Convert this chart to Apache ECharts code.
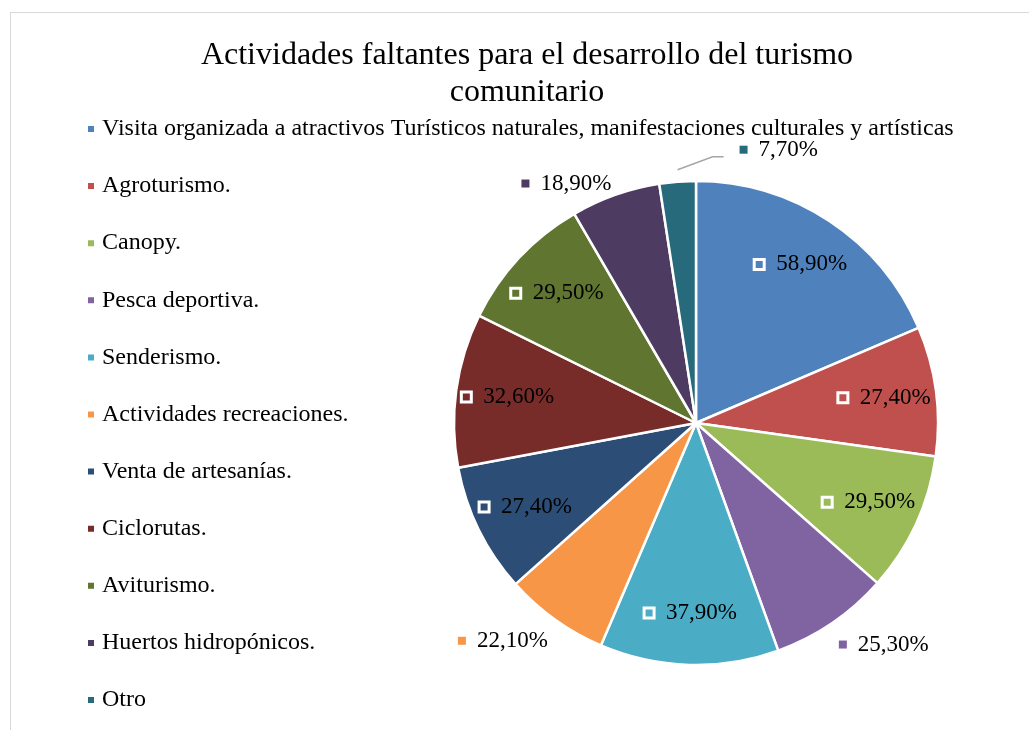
<!DOCTYPE html>
<html>
<head>
<meta charset="utf-8">
<title>Actividades faltantes para el desarrollo del turismo comunitario</title>
<script src="https://cdn.jsdelivr.net/npm/echarts@6/dist/echarts.min.js"></script>
<style>
html, body { margin: 0; padding: 0; background: #fff; }
#frame { position: absolute; left: 10px; top: 12px; width: 1040px; height: 740px; border: 1px solid #d9d9d9; }
#chart { position: absolute; left: 0; top: 0; width: 1029px; height: 730px; }
</style>
</head>
<body>
<div id="frame"></div>
<div id="chart"></div>
<script>
var names = [
  'Visita organizada a atractivos Turísticos naturales, manifestaciones culturales y artísticas',
  'Agroturismo.',
  'Canopy.',
  'Pesca deportiva.',
  'Senderismo.',
  'Actividades recreaciones.',
  'Venta de artesanías.',
  'Ciclorutas.',
  'Aviturismo.',
  'Huertos hidropónicos.',
  'Otro'
];
var values = [58.9, 27.4, 29.5, 25.3, 37.9, 22.1, 27.4, 32.6, 29.5, 18.9, 7.7];
// etiquetas que van fuera del pastel
var outsideLabel = [false, false, false, true, false, true, false, false, false, true, true];

var colors = ['#4F81BD', '#C0504D', '#9BBB59', '#8064A2', '#4BACC6', '#F79646',
              '#2C4D75', '#772C2A', '#5F7530', '#4D3B62', '#276A7C'];
var FONT = "'Liberation Serif', 'Times New Roman', serif";
var CX = 696, CY = 423, R = 242;

// angulo medio de cada sector (horario desde las 12)
var total = values.reduce(function (a, b) { return a + b; }, 0);
var mids = [], acc = 0;
values.forEach(function (v) { mids.push((acc + v / 2) / total * 2 * Math.PI); acc += v; });

function fmt(v) { return v.toFixed(2).replace('.', ',') + '%'; }

var pieData = names.map(function (n, i) {
  var item = { name: n, value: values[i] };
  if (outsideLabel[i]) {
    item.label = {
      position: 'outside',
      formatter: '{s|}{t|' + fmt(values[i]) + '}',
      rich: {
        s: { width: 8, height: 8, backgroundColor: colors[i] },
        t: { fontFamily: FONT, fontSize: 23, color: '#000', padding: [0, 0, 0, 11] }
      }
    };
    item.labelLine = { show: i === 10 };
  }
  return item;
});

var myChart = echarts.init(document.getElementById('chart'));
myChart.setOption({
  color: colors,
  animation: false,
  title: {
    text: 'Actividades faltantes para el desarrollo del turismo\ncomunitario',
    left: 522,
    top: 32,
    textAlign: 'center',
    textStyle: { fontFamily: FONT, fontSize: 32, fontWeight: 'normal', color: '#000', lineHeight: 37 }
  },
  legend: {
    orient: 'vertical',
    left: 86,
    top: 117,
    padding: 0,
    icon: 'rect',
    itemWidth: 8,
    itemHeight: 8,
    itemGap: 33.1,
    selectedMode: false,
    data: names,
    textStyle: { fontFamily: FONT, fontSize: 24, color: '#000', lineHeight: 24, padding: [0, 0, 0, 2] }
  },
  series: [{
    type: 'pie',
    center: [CX, CY],
    radius: R,
    startAngle: 90,
    clockwise: true,
    avoidLabelOverlap: false,
    itemStyle: { borderColor: '#fff', borderWidth: 2.5 },
    label: {
      show: true,
      position: 'inside',
      rotate: 0,
      formatter: function (p) { return '{b|}{t|' + fmt(p.value) + '}'; },
      rich: {
        b: { width: 10, height: 10, borderColor: '#fff', borderWidth: 3 },
        t: { fontFamily: FONT, fontSize: 23, color: '#000', padding: [0, 0, 0, 12] }
      }
    },
    labelLine: { show: false, lineStyle: { color: '#a6a6a6', width: 1.5 } },
    labelLayout: function (p) {
      var i = p.dataIndex;
      var dx = Math.sin(mids[i]), dy = -Math.cos(mids[i]);
      if (!outsideLabel[i]) {
        return { x: CX + dx * 190, y: CY + dy * 190, align: 'center', verticalAlign: 'middle' };
      }
      var ex = CX + dx * R, ey = CY + dy * R;
      if (i === 10) {
        var p1 = [ex, ey - 12], p2 = [ex + 35, ey - 25], p3 = [ex + 46, ey - 25];
        return {
          x: ex + 62, y: ey - 32, align: 'left', verticalAlign: 'middle',
          labelLinePoints: [p1, p2, p3]
        };
      }
      var d = 12;
      return {
        x: ex + dx * d, y: ey + dy * d,
        align: dx > 0 ? 'left' : 'right',
        verticalAlign: dy > 0 ? 'top' : 'middle'
      };
    },
    data: pieData
  }]
});
</script>
</body>
</html>
